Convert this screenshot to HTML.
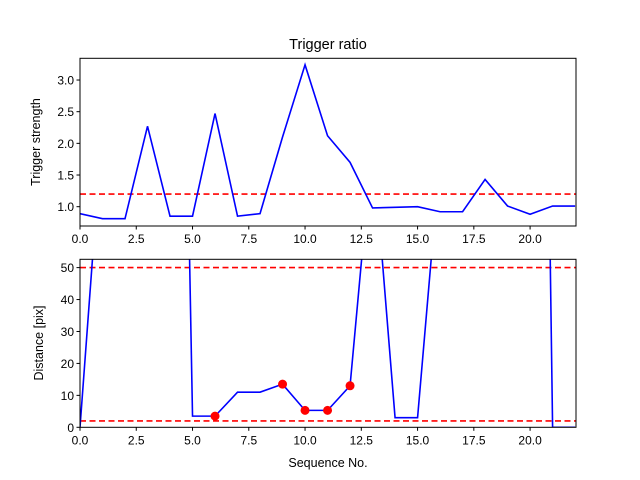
<!DOCTYPE html>
<html><head><meta charset="utf-8"><style>
body{margin:0;background:#fff;}
svg{display:block;font-family:"Liberation Sans","DejaVu Sans",sans-serif;}
</style></head><body>
<svg id="c" width="640" height="480">
<rect width="640" height="480" fill="#fff"/>
<text x="328" y="49" font-size="14.5" text-anchor="middle">Trigger ratio</text>
<text x="328" y="268" font-size="12.5" text-anchor="middle">Sequence No.</text>
<text x="328" y="467" font-size="12.5" text-anchor="middle">Sequence No.</text>
<text transform="translate(40,142) rotate(-90)" font-size="12.5" text-anchor="middle">Trigger strength</text>
<text transform="translate(43,343) rotate(-90)" font-size="12.5" text-anchor="middle">Distance [pix]</text>
</svg>
<script>
const seq = [0,1,2,3,4,5,6,7,8,9,10,11,12,13,14,15,16,17,18,19,20,21,22];
const strength = [0.89,0.81,0.81,2.27,0.85,0.85,2.47,0.85,0.89,2.1,3.24,2.12,1.7,0.98,0.99,1.0,0.92,0.92,1.43,1.01,0.88,1.01,1.01];
const strengthThreshold = 1.2;
const distance = [0,95,100,100,380,3.5,3.5,11,11,13.5,5.3,5.3,13,90,3,3,85,100,100,100,500,0,0];
const markerIdx = [6,9,10,11,12];
const distThresholds = [50,2];
const xTicks = [0,2.5,5,7.5,10,12.5,15,17.5,20];
const xTickLabels = ["0.0","2.5","5.0","7.5","10.0","12.5","15.0","17.5","20.0"];
const topYTicks = [1.0,1.5,2.0,2.5,3.0];
const topYTickLabels = ["1.0","1.5","2.0","2.5","3.0"];
const botYTicks = [0,10,20,30,40,50];
const botYTickLabels = ["0","10","20","30","40","50"];

const NS="http://www.w3.org/2000/svg";
const svg=document.getElementById('c');
function mk(t,a,p){const e=document.createElementNS(NS,t);for(const k in a)e.setAttribute(k,a[k]);(p||svg).appendChild(e);return e;}
const L=80,R=576,X0=0,X1=22.04;
const sx=v=>L+(v-X0)/(X1-X0)*(R-L);

function panel(top,bot,y0,y1,vals,thr,yt,ytl,prefix,marks){
  const sy=v=>bot-(v-y0)/(y1-y0)*(bot-top);
  const cid=prefix+'clip';
  const cp=mk('clipPath',{id:cid});mk('rect',{x:L,y:top,width:R-L,height:bot-top},cp);
  const g=mk('g',{'clip-path':'url(#'+cid+')'});
  
  
  thr.forEach((t,i)=>{
    const l=mk('line',{x1:L,x2:R,y1:sy(t),y2:sy(t),stroke:'#ff0000','stroke-width':1.6,'stroke-dasharray':'6,3.5'},g);
    
    
  });
  const pl=mk('polyline',{points:seq.map((s,i)=>sx(s)+','+sy(vals[i])).join(' '),fill:'none',stroke:'#0000ff','stroke-width':1.6},g);
  
  
  (marks||[]).forEach(i=>{
    const c=mk('circle',{cx:sx(seq[i]),cy:sy(vals[i]),r:4.5,fill:'#ff0000'},g);
    
    
  });
  const fr=mk('rect',{x:L,y:top,width:R-L,height:bot-top,fill:'none',stroke:'#000','stroke-width':1});
  
  
  xTicks.forEach((t,i)=>{
    mk('line',{x1:sx(t),x2:sx(t),y1:bot,y2:bot+3.5,stroke:'#000'});
    const tx=mk('text',{x:sx(t),y:bot+17,'font-size':12,'text-anchor':'middle'});
    tx.textContent=xTickLabels[i];
    
    
  });
  yt.forEach((t,i)=>{
    mk('line',{x1:L-3.5,x2:L,y1:sy(t),y2:sy(t),stroke:'#000'});
    const tx=mk('text',{x:L-6,y:sy(t)+4.5,'font-size':12,'text-anchor':'end'});
    tx.textContent=ytl[i];
    
    
  });
}
panel(58.3,226,0.695,3.343,strength,[strengthThreshold],topYTicks,topYTickLabels,'top-',null);
// white background for bottom panel covering top x label overlap
const bg=mk('rect',{x:L,y:259.3,width:R-L,height:168,fill:'#fff'});


panel(259.3,427.3,0,52.6,distance,distThresholds,botYTicks,botYTickLabels,'bottom-',markerIdx);
</script>
</body></html>
